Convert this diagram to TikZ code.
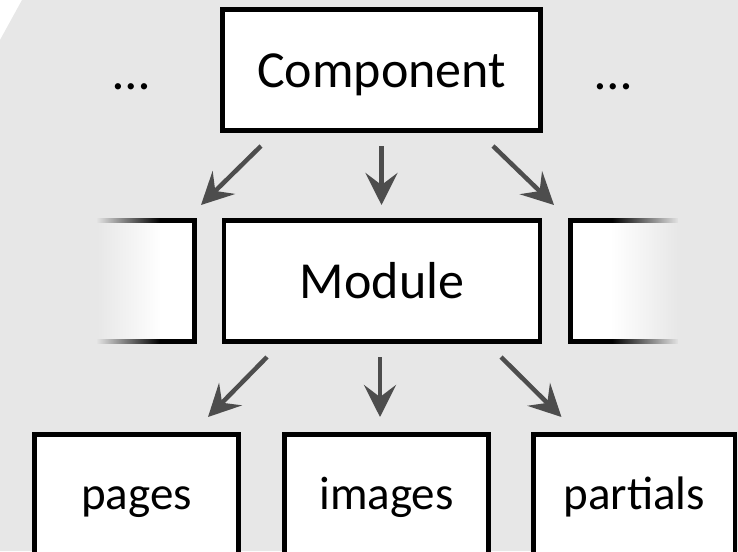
\documentclass[tikz,border=0pt]{standalone}
\usepackage{fontspec}
\setmainfont{Carlito}
\usetikzlibrary{arrows.meta,fadings}
\definecolor{panel}{HTML}{E7E7E7}
\definecolor{arrowgray}{HTML}{4D4D4D}
\tikzfading[name=fade right, left color=transparent!0, right color=transparent!100]
\tikzfading[name=fade left, left color=transparent!100, right color=transparent!0]
\begin{document}
\begin{tikzpicture}[x=0.5pt, y=-0.5pt, >={Stealth[length=16pt,width=16pt,inset=6pt]}]
    \tikzstyle{level}=[rectangle,draw,line width=2.25pt,fill=white,inner sep=0pt,minimum height=60.5pt,text height=24.7pt,text depth=7pt,font=\fontsize{26}{31}\selectfont]
    \tikzstyle{leaf}=[level,minimum height=67.75pt,text height=22.3pt,text depth=15.5pt,font=\fontsize{23.5}{28}\selectfont]
    \tikzstyle{dots}=[inner sep=0pt,text height=24.7pt,text depth=7pt,font=\fontsize{26}{31}\selectfont]
    \tikzstyle{link}=[draw=arrowgray,line width=2.25pt]
    \useasboundingbox (0,0) rectangle (738,551);
    \clip (0,0) rectangle (738,551);
    \fill[panel] (22,0) -- (738,0) -- (738,551) -- (0,551) -- (0,40) -- cycle;
    % top row
    \node[level,minimum width=159pt] (component) at (381.5,70) {Component};
    \node[dots] (more-left) at (131.5,72) {…};
    \node[dots] (more-right) at (613.5,72) {…};
    % middle row, the neighbours fade out
    \node[level,minimum width=158pt] (module) at (382,281) {Module};
    \node[level,minimum width=77.25pt] (prev-module) at (117.25,281) {};
    \node[level,minimum width=79.75pt] (next-module) at (650.25,281) {};
    \fill[panel] (0,208) rectangle (97,354);
    \fill[panel,path fading=fade right] (96,208) rectangle (160,354);
    \fill[panel,path fading=fade left] (612,208) rectangle (679,354);
    \fill[panel] (678,208) rectangle (738,354);
    % bottom row
    \node[leaf,minimum width=102pt] (pages) at (136.5,502.25) {pages};
    \node[leaf,minimum width=102pt] (images) at (386.5,502.25) {images};
    \node[leaf,minimum width=100.75pt] (partials) at (634.25,502.25) {partials};
    % arrow ends
    \coordinate (component-l) at (261,146);
    \coordinate (component-m) at (381.5,146);
    \coordinate (component-r) at (493,146);
    \coordinate (prev-top) at (201,205);
    \coordinate (module-top) at (381.5,205);
    \coordinate (next-top) at (554,205);
    \coordinate (module-l) at (267,357);
    \coordinate (module-m) at (380,357);
    \coordinate (module-r) at (501,357);
    \coordinate (pages-top) at (208,417);
    \coordinate (images-top) at (380,417);
    \coordinate (partials-top) at (561.5,417);
    \path[->](component-l)edge[link](prev-top);
    \path[->](component-m)edge[link](module-top);
    \path[->](component-r)edge[link](next-top);
    \path[->](module-l)edge[link](pages-top);
    \path[->](module-m)edge[link](images-top);
    \path[->](module-r)edge[link](partials-top);
\end{tikzpicture}
\end{document}
